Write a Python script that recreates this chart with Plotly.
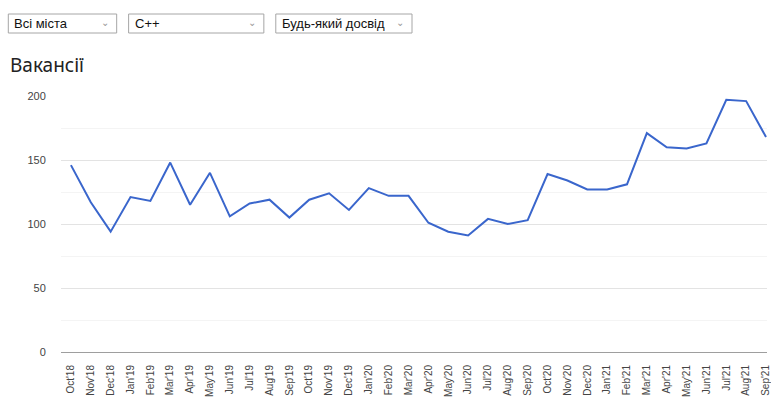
import plotly.graph_objects as go

months = ["Oct'18","Nov'18","Dec'18","Jan'19","Feb'19","Mar'19","Apr'19","May'19","Jun'19","Jul'19",
          "Aug'19","Sep'19","Oct'19","Nov'19","Dec'19","Jan'20","Feb'20","Mar'20","Apr'20","May'20",
          "Jun'20","Jul'20","Aug'20","Sep'20","Oct'20","Nov'20","Dec'20","Jan'21","Feb'21","Mar'21",
          "Apr'21","May'21","Jun'21","Jul'21","Aug'21","Sep'21"]
vacancies = [146, 117, 94, 121, 118, 148, 115, 140, 106, 116,
             119, 105, 119, 124, 111, 128, 122, 122, 101, 94,
             91, 104, 100, 103, 139, 134, 127, 127, 131, 171,
             160, 159, 163, 197, 196, 168]
filters = ["Всі міста", "C++", "Будь-який досвід"]
y_ticks = [0, 50, 100, 150, 200]

W, H = 771, 397
L, R, T, B = 61, 0, 96, 45
pw, ph = W - L - R, H - T - B

def px(x):
    return (x - L) / pw

def py(y):
    return (H - B - y) / ph

fig = go.Figure()
fig.add_trace(go.Scatter(x=months, y=vacancies, mode="lines",
                         line=dict(color="#3a66cc", width=2), hoverinfo="x+y"))

shapes = []
annotations = []
boxes = [(8, 117), (129, 265), (277, 414)]
for (x0, x1), label in zip(boxes, filters):
    shapes.append(dict(type="rect", xref="paper", yref="paper",
                       x0=px(x0), x1=px(x1), y0=py(33), y1=py(14),
                       line=dict(color="#a6a6a6", width=1), fillcolor="white", layer="above"))
    annotations.append(dict(text=label, xref="paper", yref="paper", x=px(x0 + 4), y=py(23.5),
                            xanchor="left", yanchor="middle", showarrow=False,
                            font=dict(family="Liberation Sans, Arial", size=13, color="#111")))
    annotations.append(dict(text="⌄", xref="paper", yref="paper", x=px(x1 - 6), y=py(22),
                            xanchor="right", yanchor="middle", showarrow=False,
                            font=dict(family="DejaVu Sans", size=10, color="#999")))

annotations.append(dict(text="Вакансії", xref="paper", yref="paper", x=px(8), y=py(65),
                        xanchor="left", yanchor="middle", showarrow=False,
                        font=dict(family="Noto Sans, Open Sans", size=19, color="#222")))

fig.update_layout(
    width=W, height=H,
    margin=dict(l=L, r=R, t=T, b=B),
    paper_bgcolor="white", plot_bgcolor="white",
    showlegend=False,
    shapes=shapes, annotations=annotations,
    xaxis=dict(type="category", range=[-0.5, 35.05], tickangle=-90, showgrid=False,
               showline=False, zeroline=False, ticks="outside", ticklen=8,
               tickcolor="rgba(0,0,0,0)",
               tickfont=dict(family="Liberation Sans, Arial", size=10, color="#444"),
               fixedrange=True),
    yaxis=dict(range=[0, 200], tickvals=y_ticks, showgrid=True, gridcolor="#e3e3e3",
               zeroline=True, zerolinecolor="#9e9e9e", zerolinewidth=1,
               minor=dict(dtick=25, tick0=0, showgrid=True, gridcolor="#f4f4f4"),
               ticks="outside", ticklen=12, tickcolor="rgba(0,0,0,0)",
               tickfont=dict(family="Liberation Sans, Arial", size=11, color="#444"),
               fixedrange=True),
)

fig.write_html("out.html", config={"displayModeBar": False})
